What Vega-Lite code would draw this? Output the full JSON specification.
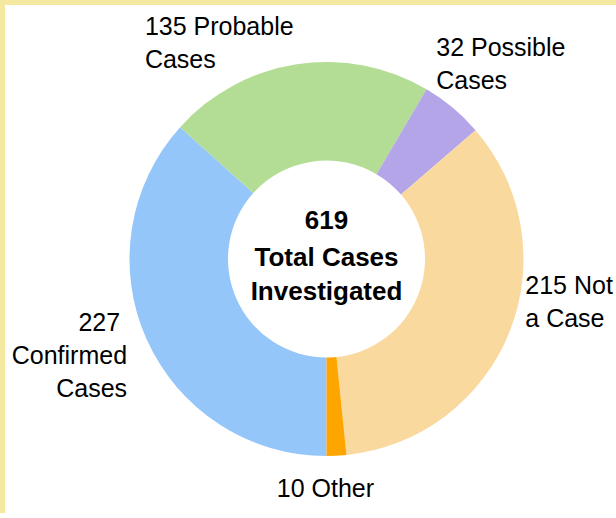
{
  "$schema": "https://vega.github.io/schema/vega-lite/v6.json",
  "width": 643,
  "height": 508,
  "autosize": {"type": "none"},
  "padding": {"left": 5, "top": 5, "right": -32, "bottom": 0},
  "background": "#F5E8A0",
  "view": {"fill": "#FFFFFF", "stroke": null},
  "config": {
    "text": {"font": "Liberation Sans", "color": "black"}
  },
  "data": {
    "values": [
      {"cat": "Confirmed", "n": 227, "rank": 1, "label": "227\u00a0\u200b\nConfirmed\nCases"},
      {"cat": "Probable", "n": 135, "rank": 2, "label": "135 Probable\nCases"},
      {"cat": "Possible", "n": 32, "rank": 3, "label": "32 Possible\nCases"},
      {"cat": "Not a Case", "n": 215, "rank": 4, "label": "215 Not\na Case"},
      {"cat": "Other", "n": 10, "rank": 5, "label": "10 Other"}
    ]
  },
  "layer": [
    {
      "mark": {"type": "arc", "outerRadius": 197, "innerRadius": 98.5},
      "encoding": {
        "theta": {"field": "n", "type": "quantitative", "stack": true, "scale": {"range": [3.14159265, 9.42477796]}},
        "order": {"field": "rank", "type": "quantitative"},
        "color": {
          "field": "cat", "type": "nominal", "legend": null,
          "scale": {
            "domain": ["Confirmed", "Probable", "Possible", "Not a Case", "Other"],
            "range": ["#94C6F9", "#B3DD94", "#B4A5E8", "#F9D99E", "#FFA500"]
          }
        }
      }
    },
    {
      "mark": {"type": "text", "radius": 215, "align": "right", "baseline": "middle", "dx": -3, "dy": -23, "fontSize": 25, "lineHeight": 33, "lineBreak": "\n"},
      "encoding": {
        "theta": {"field": "n", "type": "quantitative", "stack": true},
        "order": {"field": "rank", "type": "quantitative"},
        "text": {"condition": {"test": "datum.cat === 'Confirmed'", "field": "label", "type": "nominal"}, "value": ""}
      }
    },
    {
      "mark": {"type": "text", "radius": 215, "align": "left", "baseline": "middle", "dx": -149, "dy": -19.5, "fontSize": 25, "lineHeight": 33, "lineBreak": "\n"},
      "encoding": {
        "theta": {"field": "n", "type": "quantitative", "stack": true},
        "order": {"field": "rank", "type": "quantitative"},
        "text": {"condition": {"test": "datum.cat === 'Probable'", "field": "label", "type": "nominal"}, "value": ""}
      }
    },
    {
      "mark": {"type": "text", "radius": 215, "align": "left", "baseline": "middle", "dx": -28, "dy": -46, "fontSize": 25, "lineHeight": 33, "lineBreak": "\n"},
      "encoding": {
        "theta": {"field": "n", "type": "quantitative", "stack": true},
        "order": {"field": "rank", "type": "quantitative"},
        "text": {"condition": {"test": "datum.cat === 'Possible'", "field": "label", "type": "nominal"}, "value": ""}
      }
    },
    {
      "mark": {"type": "text", "radius": 215, "align": "left", "baseline": "middle", "dx": -1, "dy": -52.5, "fontSize": 25, "lineHeight": 33, "lineBreak": "\n"},
      "encoding": {
        "theta": {"field": "n", "type": "quantitative", "stack": true},
        "order": {"field": "rank", "type": "quantitative"},
        "text": {"condition": {"test": "datum.cat === 'Not a Case'", "field": "label", "type": "nominal"}, "value": ""}
      }
    },
    {
      "mark": {"type": "text", "radius": 215, "align": "center", "baseline": "middle", "dx": -12, "dy": 15, "fontSize": 25, "lineHeight": 33, "lineBreak": "\n"},
      "encoding": {
        "theta": {"field": "n", "type": "quantitative", "stack": true},
        "order": {"field": "rank", "type": "quantitative"},
        "text": {"condition": {"test": "datum.cat === 'Other'", "field": "label", "type": "nominal"}, "value": ""}
      }
    },
    {
      "transform": [{"aggregate": [{"op": "sum", "field": "n", "as": "total"}]}],
      "layer": [
        {
          "mark": {"type": "text", "align": "center", "baseline": "middle", "fontSize": 26, "fontWeight": "bold", "dy": -38},
          "encoding": {"text": {"field": "total", "type": "quantitative"}}
        },
        {
          "mark": {"type": "text", "align": "center", "baseline": "middle", "fontSize": 26, "fontWeight": "bold", "dy": -1, "lineHeight": 34, "lineBreak": "\n", "text": "Total Cases\nInvestigated"},
          "encoding": {}
        }
      ]
    }
  ]
}
